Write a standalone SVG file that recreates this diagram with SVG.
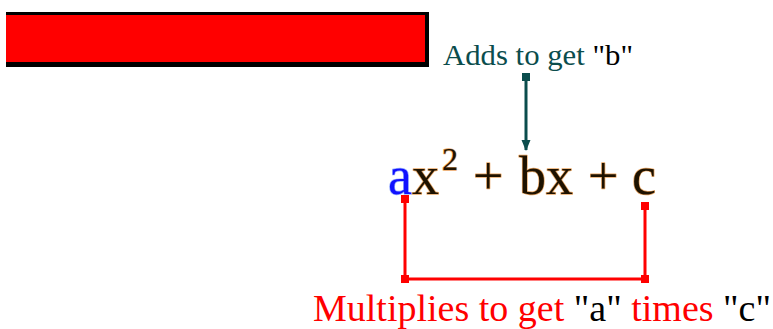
<svg xmlns="http://www.w3.org/2000/svg" width="773" height="329" viewBox="0 0 773 329">
<style>
.serif{font-family:"Liberation Serif","Times New Roman",serif}
.teal{fill:#0b4d4d}
.red{fill:#ff0000}
.blk{fill:#000}
.eq{fill:#1e1200;stroke:#eaa866;stroke-width:1.4;paint-order:stroke;stroke-linejoin:round}
.eqa{fill:#1010ff;stroke:#9db3ff;stroke-width:1.4;paint-order:stroke}
.tline{stroke:#0b4d4d;stroke-width:3;fill:none}
.rline{stroke:#ff0000;stroke-width:3;fill:none}
</style>
<defs>
<marker id="sqT" markerWidth="8" markerHeight="8" refX="4" refY="4" markerUnits="userSpaceOnUse"><rect width="8" height="8" fill="#0b4d4d"/></marker>
<marker id="arrT" markerWidth="11" markerHeight="11" refX="10" refY="5.5" orient="auto" markerUnits="userSpaceOnUse"><path d="M0,1 L11,5.5 L0,10 Z" fill="#0b4d4d"/></marker>
<marker id="sqR" markerWidth="8" markerHeight="8" refX="4" refY="4" markerUnits="userSpaceOnUse"><rect width="8" height="8" fill="#ff0000"/></marker>
</defs>
<rect width="773" height="329" fill="#fff"/>
<g id="bar">
<rect x="6" y="12" width="423" height="55" fill="#000"/>
<rect x="6" y="15" width="419" height="47" fill="#ff0000"/>
</g>
<g id="adds-label">
<text class="serif" x="443" y="65" font-size="29" textLength="190" lengthAdjust="spacingAndGlyphs"><tspan class="teal">Adds to get </tspan><tspan class="blk">"b"</tspan></text>
</g>
<g id="equation" class="serif">
<text x="388" y="194" font-size="54" class="eqa">a</text>
<text x="412" y="194" font-size="54" class="eq">x</text>
<text x="442" y="170" font-size="32" class="eq">2</text>
<text x="473" y="194" font-size="54" class="eq">+</text>
<text x="519" y="194" font-size="54" class="eq">bx</text>
<text x="588" y="194" font-size="54" class="eq">+</text>
<text x="632" y="194" font-size="54" class="eq">c</text>
</g>
<g id="multiplies-label">
<text class="serif" x="313" y="321" font-size="38" textLength="458" lengthAdjust="spacingAndGlyphs"><tspan class="red">Multiplies to get </tspan><tspan class="blk">"a"</tspan><tspan class="red"> times </tspan><tspan class="blk">"c"</tspan></text>
</g>
<g id="connectors">
<path class="tline" d="M526,77 L526,150" marker-start="url(#sqT)" marker-end="url(#arrT)"/>
<path class="rline" d="M405,199 L405,279 L645,279 L645,206" marker-start="url(#sqR)" marker-mid="url(#sqR)" marker-end="url(#sqR)"/>
</g>
</svg>
